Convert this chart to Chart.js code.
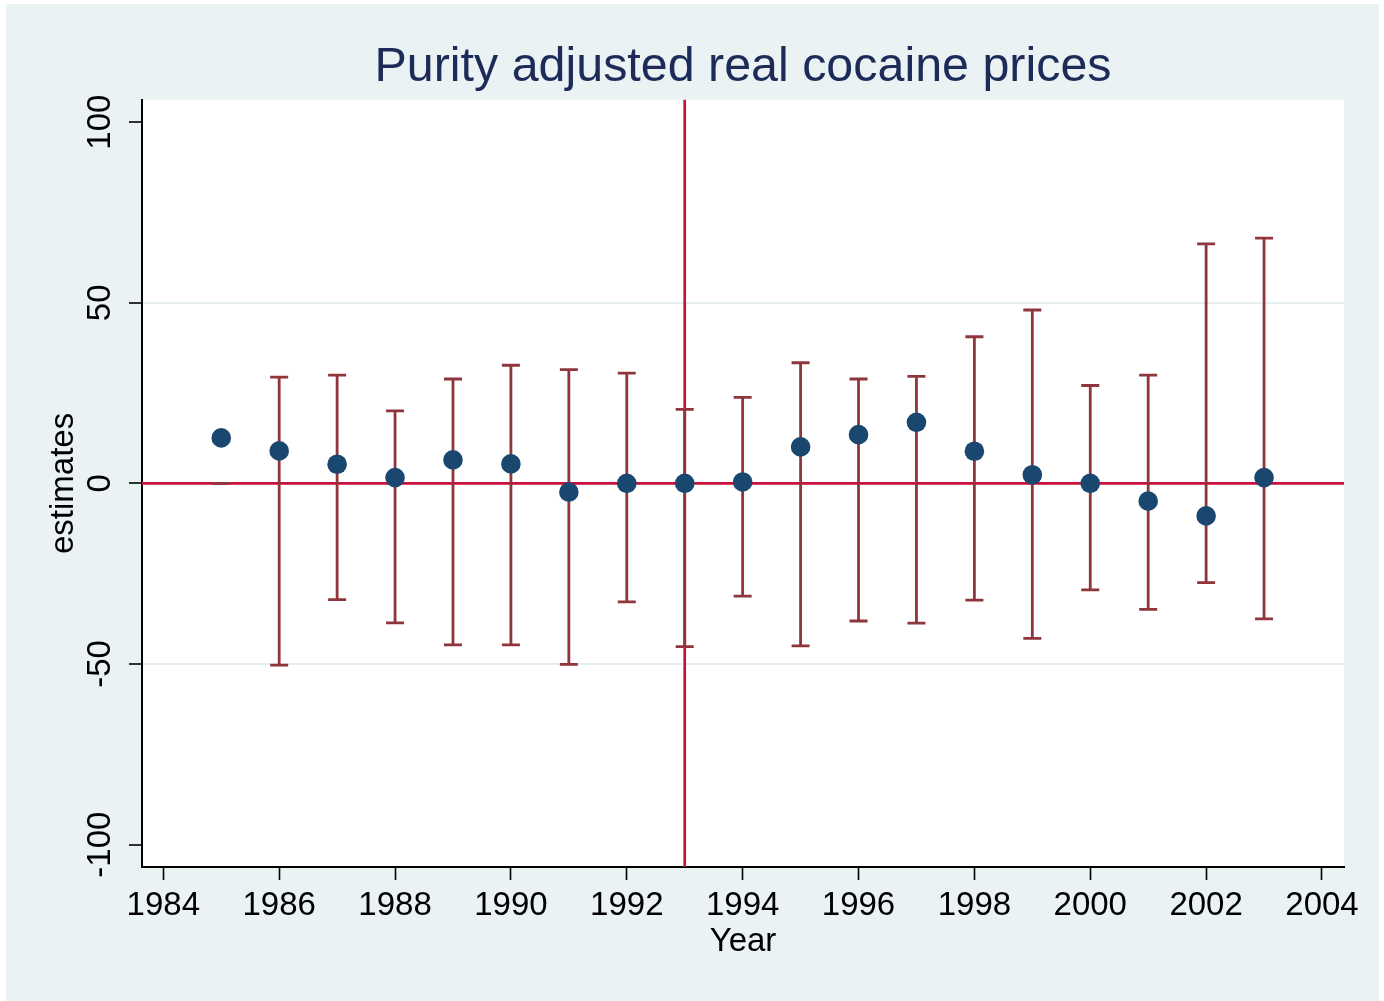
<!DOCTYPE html>
<html>
<head>
<meta charset="utf-8">
<script src="https://cdn.jsdelivr.net/npm/chart.js@4.4.1/dist/chart.umd.min.js"></script>
<style>
  html, body { margin: 0; padding: 0; background: #fff; }
  canvas { display: block; }
</style>
</head>
<body>
<canvas id="chart" width="1384" height="1001"></canvas>
<script>
// Year-by-year estimates with their confidence intervals
const years     = [1985, 1986, 1987, 1988, 1989, 1990, 1991, 1992, 1993, 1994,
                   1995, 1996, 1997, 1998, 1999, 2000, 2001, 2002, 2003];
const estimates = [12.6, 9.0, 5.3, 1.6, 6.5, 5.4, -2.4, 0.0, 0.0, 0.4,
                   10.1, 13.5, 16.9, 8.9, 2.4, 0.0, -4.9, -9.0, 1.6];
const ciLower   = [0, -50.3, -32.2, -38.6, -44.7, -44.7, -50.1, -32.8, -45.2, -31.2,
                   -45.0, -38.1, -38.7, -32.3, -42.9, -29.5, -34.9, -27.5, -37.5];
const ciUpper   = [0, 29.4, 30.0, 20.1, 28.9, 32.7, 31.5, 30.5, 20.5, 23.8,
                   33.4, 28.9, 29.6, 40.6, 48.0, 27.1, 30.0, 66.3, 67.9];

// Axis ticks and reference lines
const xTickValues = [1984, 1986, 1988, 1990, 1992, 1994, 1996, 1998, 2000, 2002, 2004];
const yTickValues = [-100, -50, 0, 50, 100];
const yGridValues = [-50, 0, 50];
const refYear = 1993;
const refValue = 0;

const FONT = "'Liberation Sans', Arial, Helvetica, sans-serif";
const BG = '#EAF2F3';
const MARKER = '#1A476F';
const CI_COLOR = '#90353B';
const REF_COLOR = '#C8103A';

// Outer panel and white plot region
const backdrop = {
  id: 'backdrop',
  beforeDraw(chart) {
    const { ctx, width, height, chartArea: a } = chart;
    ctx.save();
    ctx.fillStyle = '#fff';
    ctx.fillRect(0, 0, width, height);
    ctx.fillStyle = BG;
    ctx.fillRect(6, 4, width - 11, height - 4);
    ctx.fillStyle = '#fff';
    ctx.fillRect(a.left, a.top, a.right - a.left, a.bottom - a.top);
    ctx.restore();
  }
};

// Reference lines and capped confidence-interval bars
const intervals = {
  id: 'intervals',
  beforeDatasetsDraw(chart) {
    const { ctx, chartArea: a, scales: { x, y } } = chart;
    ctx.save();
    ctx.lineCap = 'butt';
    ctx.strokeStyle = REF_COLOR;
    ctx.lineWidth = 2.7;
    const y0 = y.getPixelForValue(refValue);
    ctx.beginPath();
    ctx.moveTo(a.left, y0);
    ctx.lineTo(a.right, y0);
    ctx.stroke();
    const x0 = x.getPixelForValue(refYear);
    ctx.beginPath();
    ctx.moveTo(x0, a.top);
    ctx.lineTo(x0, a.bottom);
    ctx.stroke();

    ctx.strokeStyle = CI_COLOR;
    ctx.lineWidth = 2.8;
    const capHalf = 9;
    years.forEach((yr, i) => {
      const px = x.getPixelForValue(yr);
      const lo = y.getPixelForValue(ciLower[i]);
      const hi = y.getPixelForValue(ciUpper[i]);
      ctx.beginPath();
      ctx.moveTo(px, lo);
      ctx.lineTo(px, hi);
      ctx.moveTo(px - capHalf, lo);
      ctx.lineTo(px + capHalf, lo);
      ctx.moveTo(px - capHalf, hi);
      ctx.lineTo(px + capHalf, hi);
      ctx.stroke();
    });
    ctx.restore();
  }
};

new Chart(document.getElementById('chart'), {
  type: 'scatter',
  data: {
    datasets: [{
      label: 'estimates',
      data: years.map((yr, i) => ({ x: yr, y: estimates[i] })),
      pointRadius: 9.8,
      pointBackgroundColor: MARKER,
      pointBorderColor: MARKER,
      pointBorderWidth: 0
    }]
  },
  options: {
    responsive: false,
    animation: false,
    events: [],
    layout: { padding: { left: 0, right: 40, top: 0, bottom: 0 } },
    plugins: {
      legend: { display: false },
      tooltip: { enabled: false },
      title: {
        display: true,
        fullSize: false,
        text: 'Purity adjusted real cocaine prices',
        color: '#1D2B58',
        font: { family: FONT, size: 48.4, weight: 'normal', lineHeight: 1.2 },
        padding: { top: 38.8, bottom: 2.9 }
      }
    },
    scales: {
      x: {
        type: 'linear',
        min: 1983.632,
        max: 2004.38,
        afterBuildTicks: s => { s.ticks = xTickValues.map(v => ({ value: v })); },
        afterFit: s => { s.height = 134; },
        ticks: {
          color: '#000',
          font: { family: FONT, size: 33 },
          padding: 6,
          maxRotation: 0,
          autoSkip: false,
          callback: v => String(v)
        },
        grid: {
          drawOnChartArea: false,
          drawTicks: true,
          tickLength: 13,
          tickColor: '#000',
          tickWidth: 1.6
        },
        border: { display: true, color: '#000', width: 2 },
        title: {
          display: true,
          text: 'Year',
          color: '#000',
          font: { family: FONT, size: 33, lineHeight: 1.2 },
          padding: { top: 0, bottom: 39 }
        }
      },
      y: {
        type: 'linear',
        min: -106.2,
        max: 106.2,
        afterBuildTicks: s => { s.ticks = yTickValues.map(v => ({ value: v })); },
        afterFit: s => { s.width = 142; },
        ticks: {
          color: '#000',
          font: { family: FONT, size: 33 },
          padding: -5,
          minRotation: 90,
          maxRotation: 90,
          crossAlign: 'center',
          autoSkip: false,
          callback: v => String(v)
        },
        grid: {
          color: c => (c.tick && yGridValues.includes(c.tick.value)) ? '#E6EEF1' : 'rgba(0,0,0,0)',
          lineWidth: 2,
          drawTicks: true,
          tickLength: 13,
          tickColor: '#000',
          tickWidth: 1.6
        },
        border: { display: true, color: '#000', width: 2 },
        title: {
          display: true,
          text: 'estimates',
          color: '#000',
          font: { family: FONT, size: 33, lineHeight: 1.2 },
          padding: { top: 44.4, bottom: 0 }
        }
      }
    }
  },
  plugins: [backdrop, intervals]
});
</script>
</body>
</html>
